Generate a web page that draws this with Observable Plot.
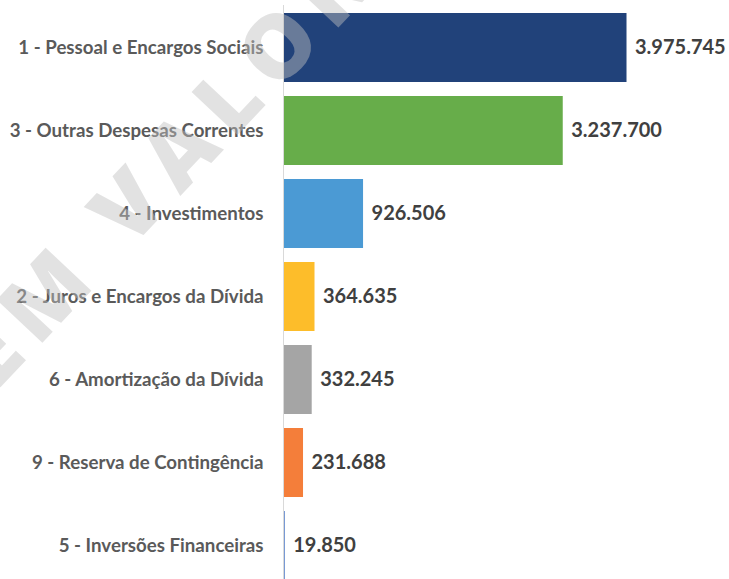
<!DOCTYPE html>
<html>
<head>
<meta charset="utf-8">
<script src="https://cdn.jsdelivr.net/npm/d3@7"></script>
<script src="https://cdn.jsdelivr.net/npm/@observablehq/plot@0.6"></script>
<style>
  html, body { margin: 0; padding: 0; background: #fff; }
  #wrap { position: relative; width: 729px; height: 579px; overflow: hidden; }
  #wm {
    position: absolute; left: 143px; top: 186px;
    transform: translate(-50%, -50%) rotate(-46.8deg);
    font-family: "Open Sans", sans-serif; font-weight: 800; font-size: 88px;
    letter-spacing: 13px; white-space: nowrap; color: #c0c0c0; opacity: 0.45;
    pointer-events: none;
  }
</style>
</head>
<body>
<div id="wrap"><div id="chart"></div><div id="wm">SEM VALOR</div></div>
<script>
const categories = [
  "1 - Pessoal e Encargos Sociais",
  "3 - Outras Despesas Correntes",
  "4 - Investimentos",
  "2 - Juros e Encargos da Dívida",
  "6 - Amortização da Dívida",
  "9 - Reserva de Contingência",
  "5 - Inversões Financeiras"
];
const values = [3975745, 3237700, 926506, 364635, 332245, 231688, 19850];
const colors = ["#21427a", "#67ad4a", "#4b9ad4", "#fdbd2a", "#a5a5a5", "#f47e3a", "#4472c4"];

const data = categories.map((c, i) => ({cat: c, value: values[i], color: colors[i]}));
const ptBR = d3.formatLocale({decimal: ",", thousands: ".", grouping: [3], currency: ["R$", ""]});
const fmt = ptBR.format(",d");

const chart = Plot.plot({
  width: 729,
  height: 579,
  marginLeft: 283,
  marginRight: 14,
  marginTop: 5,
  marginBottom: 0,
  style: {fontFamily: "Lato, sans-serif", background: "#fff"},
  x: {domain: [0, 5000000], axis: null},
  y: {domain: categories, range: [-4.5, 596.5], padding: 0.17, axis: null},
  marks: [
    Plot.barX(data, {x: "value", y: "cat", fill: "color"}),
    Plot.ruleX([0], {stroke: "#d9d9d9", strokeWidth: 1}),
    Plot.text(data, {x: 0, y: "cat", text: "cat", textAnchor: "end", dx: -20,
      fontSize: 18.7, fill: "#5a5a5a", fontWeight: 700}),
    Plot.text(data, {x: "value", y: "cat", text: d => fmt(d.value), textAnchor: "start", dx: 8,
      fontSize: 20, fill: "#404040", fontWeight: 700})
  ]
});
document.getElementById("chart").appendChild(chart);
</script>
</body>
</html>
